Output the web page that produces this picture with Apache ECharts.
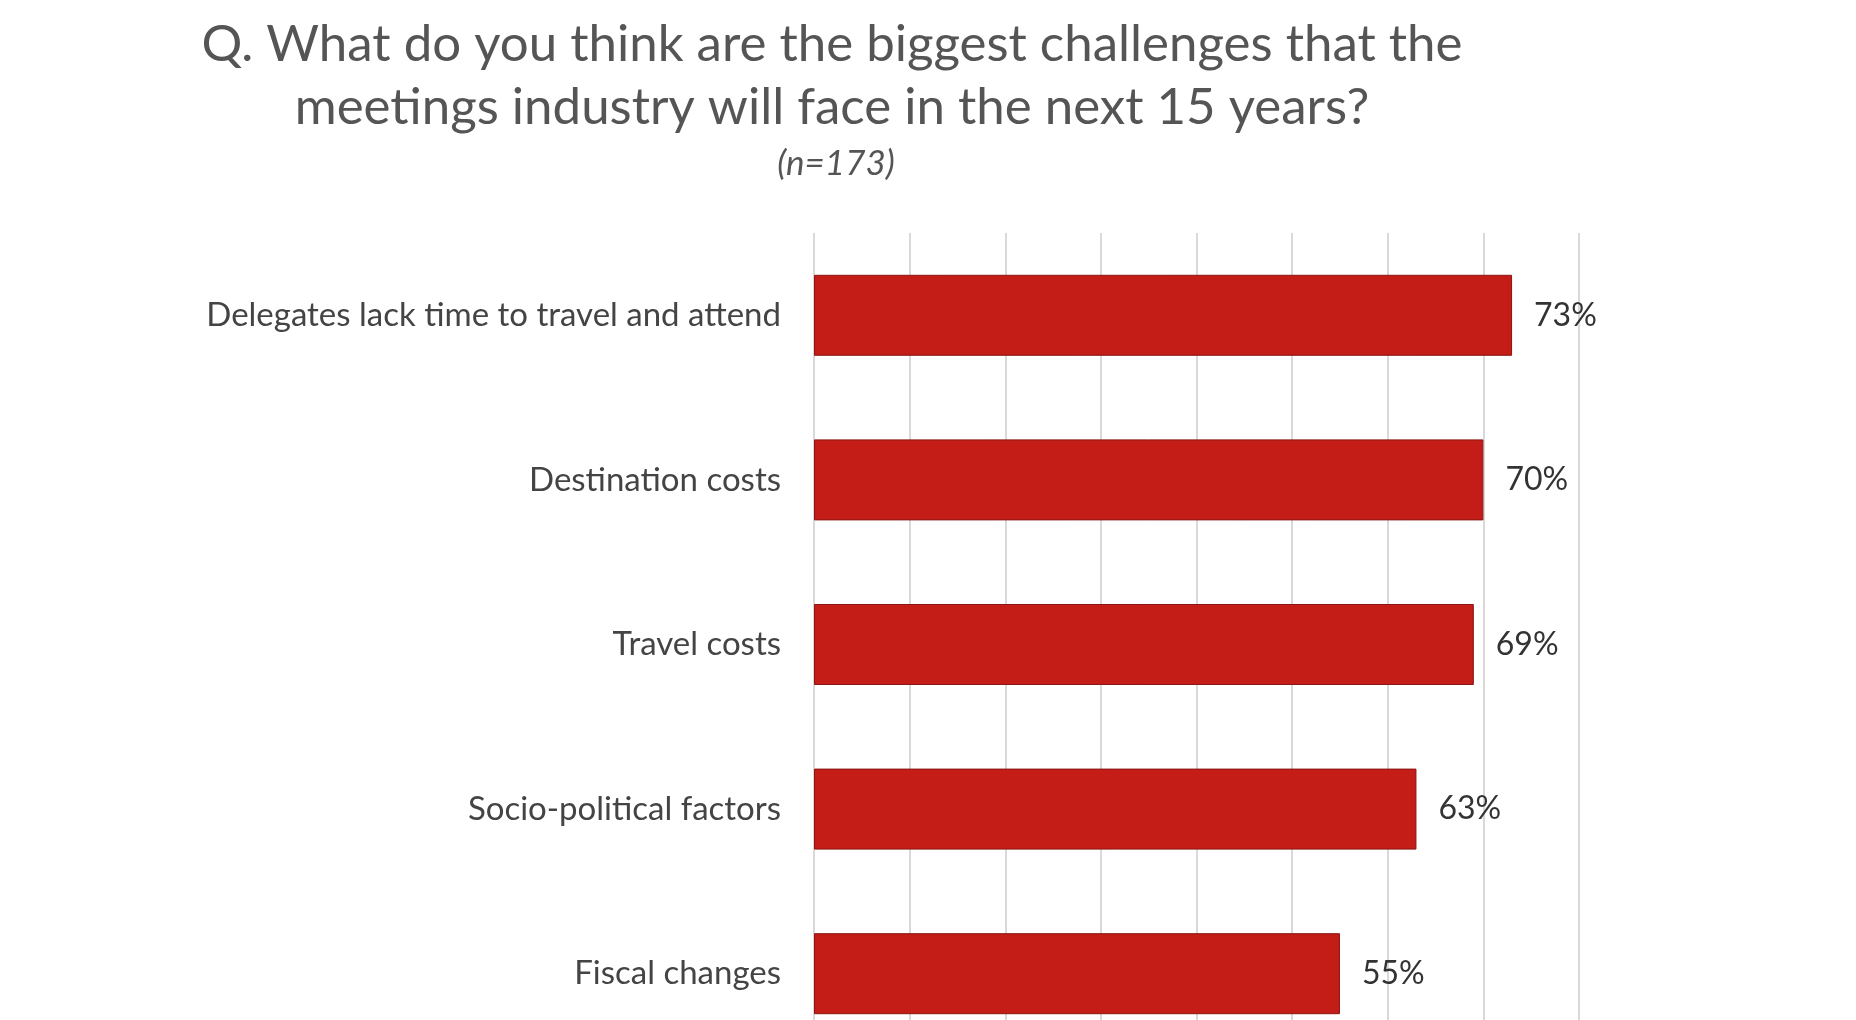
<!DOCTYPE html>
<html>
<head>
<meta charset="UTF-8">
<title>Meetings industry challenges</title>
<script src="https://cdn.jsdelivr.net/npm/echarts@6/dist/echarts.min.js"></script>
<style>
	html, body { margin: 0; padding: 0; background: #fff; }
	#main { width: 1856px; height: 1020px; }
</style>
</head>
<body>
<div id="main"></div>
<script>
// categories top to bottom
var challenges = [
	'Delegates lack time to travel and attend',
	'Destination costs',
	'Travel costs',
	'Socio-political factors',
	'Fiscal changes'
];
// share of respondents, %
var shares = [73, 70, 69, 63, 55];

var titleText = 'Q. What do you think are the biggest challenges that the\nmeetings industry will face in the next 15 years?';
var sampleText = '(n=173)';

var font = 'Lato, "Open Sans", sans-serif';
var chart = echarts.init(document.getElementById('main'));

chart.setOption({
	animation: false,
	title: [{
		text: titleText,
		left: 827,
		top: 8,
		textAlign: 'center',
		textStyle: {
			fontFamily: font,
			fontWeight: 'normal',
			fontSize: 51,
			lineHeight: 63,
			color: '#555'
		}
	}, {
		text: sampleText,
		left: 831,
		top: 141,
		textAlign: 'center',
		textStyle: {
			fontFamily: font,
			fontWeight: 'normal',
			fontStyle: 'italic',
			fontSize: 35,
			color: '#555'
		}
	}],
	grid: {
		left: 814,
		top: 233,
		width: 765,
		height: 823,
		containLabel: false,
		outerBoundsMode: 'none'
	},
	xAxis: {
		type: 'value',
		min: 0,
		max: 80,
		interval: 10,
		axisLabel: { show: false },
		axisLine: { show: false },
		axisTick: { show: false },
		splitLine: { lineStyle: { color: '#d9d9d9', width: 2 } }
	},
	yAxis: {
		type: 'category',
		data: challenges,
		inverse: true,
		axisLine: { show: false },
		axisTick: { show: false },
		axisLabel: {
			margin: 33,
			fontFamily: font,
			fontSize: 33,
			color: '#444'
		}
	},
	series: [{
		type: 'bar',
		data: shares,
		barWidth: 81,
		itemStyle: {
			color: '#c41c17',
			borderColor: '#8a1512',
			borderWidth: 1
		},
		label: {
			show: true,
			position: 'right',
			distance: 22,
			formatter: '{c}%',
			fontFamily: font,
			fontSize: 32,
			color: '#333'
		}
	}]
});
</script>
</body>
</html>
